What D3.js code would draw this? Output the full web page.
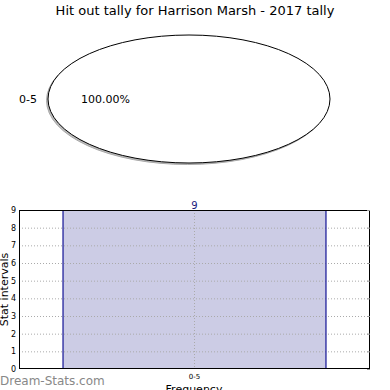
<!DOCTYPE html>
<html><head><meta charset="utf-8">
<script src="https://cdn.jsdelivr.net/npm/d3@7"></script>
<style>body{margin:0;background:#fff}svg{display:block;font-family:"DejaVu Sans",sans-serif}</style>
</head><body><svg id="c" width="390" height="390"></svg>
<script>
const categories = ["0-5"];
const values = [9];
const pctLabels = ["100.00%"];
const yTicks = [0,1,2,3,4,5,6,7,8,9];
const title = "Hit out tally for Harrison Marsh - 2017 tally";

const svg = d3.select("#c");
svg.append("text").attr("x",195).attr("y",15).attr("text-anchor","middle").attr("font-size",13).text(title);

// Pie (ellipse)
const cx=189, cy=99, rx=141, ry=64;
const pie = d3.pie().sort(null)(values);
const arc = d3.arc().innerRadius(0).outerRadius(1);
const pg = svg.append("g").attr("transform",`translate(${cx},${cy}) scale(${rx},${ry})`);
pg.selectAll("path.sh").data(pie).join("path").attr("d",arc)
  .attr("transform",`translate(${-1.5/rx},${1.5/ry})`)
  .attr("fill","#bbb").attr("stroke","#aaa").attr("stroke-width",1).attr("vector-effect","non-scaling-stroke");
pg.selectAll("path.sl").data(pie).join("path").attr("d",arc)
  .attr("fill","#fff").attr("stroke","#000").attr("stroke-width",1).attr("vector-effect","non-scaling-stroke");
svg.append("text").attr("x",19).attr("y",103).attr("font-size",11).text(categories[0]);
svg.append("text").attr("x",81).attr("y",103).attr("font-size",11).text(pctLabels[0]);

// Bar chart
const L=19,R=370,T=210,B=369;
const x = d3.scaleBand().domain(categories).range([L,R]).paddingInner(0).paddingOuter(0.165);
const y = d3.scaleLinear().domain([0,9]).range([B,T]);
const g = svg.append("g");
g.selectAll("rect.bar").data(values).join("rect")
  .attr("x",(d,i)=>x(categories[i])).attr("width",x.bandwidth())
  .attr("y",d=>y(d)).attr("height",d=>B-y(d))
  .attr("fill","#ccccE5");
g.selectAll("line.gy").data(yTicks.slice(1,-1)).join("line")
  .attr("x1",L).attr("x2",R).attr("y1",d=>y(d)+0.5).attr("y2",d=>y(d)+0.5)
  .attr("stroke","#aaa").attr("stroke-dasharray","1,2");
g.selectAll("line.bl").data(values).join("line")
  .attr("x1",(d,i)=>x(categories[i])+0.5).attr("x2",(d,i)=>x(categories[i])+0.5)
  .attr("y1",d=>y(d)).attr("y2",B).attr("stroke","#1a1a99").attr("stroke-width",1.2);
g.selectAll("line.br").data(values).join("line")
  .attr("x1",(d,i)=>x(categories[i])+x.bandwidth()-0.5).attr("x2",(d,i)=>x(categories[i])+x.bandwidth()-0.5)
  .attr("y1",d=>y(d)).attr("y2",B).attr("stroke","#1a1a99").attr("stroke-width",1.2);
g.selectAll("line.gx").data(categories).join("line")
  .attr("x1",d=>x(d)+x.bandwidth()/2).attr("x2",d=>x(d)+x.bandwidth()/2)
  .attr("y1",T).attr("y2",B).attr("stroke","#aaa").attr("stroke-dasharray","1,2");
g.append("rect").attr("x",L+0.5).attr("y",T+0.5).attr("width",R-L-1).attr("height",B-T-1)
  .attr("fill","none").attr("stroke","#000").attr("stroke-width",1);
g.selectAll("line.tr").data(yTicks).join("line")
  .attr("x1",R-3).attr("x2",R).attr("y1",d=>y(d)+0.5).attr("y2",d=>y(d)+0.5).attr("stroke","#999");
g.selectAll("text.yl").data(yTicks).join("text")
  .attr("x",L-3).attr("y",d=>y(d)+3).attr("text-anchor","end").attr("font-size",8).text(d=>d);
g.selectAll("text.xl").data(categories).join("text")
  .attr("x",d=>x(d)+x.bandwidth()/2).attr("y",B+10).attr("text-anchor","middle").attr("font-size",7).text(d=>d);
g.selectAll("text.vl").data(values).join("text")
  .attr("x",(d,i)=>x(categories[i])+x.bandwidth()/2).attr("y",d=>y(d)-1).attr("text-anchor","middle")
  .attr("font-size",10).attr("fill","#1a1a80").text(d=>d);
svg.append("text").attr("transform",`translate(8,${(T+B)/2}) rotate(-90)`).attr("text-anchor","middle").attr("font-size",11).text("Stat intervals");
svg.append("text").attr("x",194).attr("y",393).attr("text-anchor","middle").attr("font-size",11).text("Frequency");
svg.append("text").attr("x",0).attr("y",385).attr("font-size",12).attr("fill","#888").text("Dream-Stats.com");
</script></body></html>
